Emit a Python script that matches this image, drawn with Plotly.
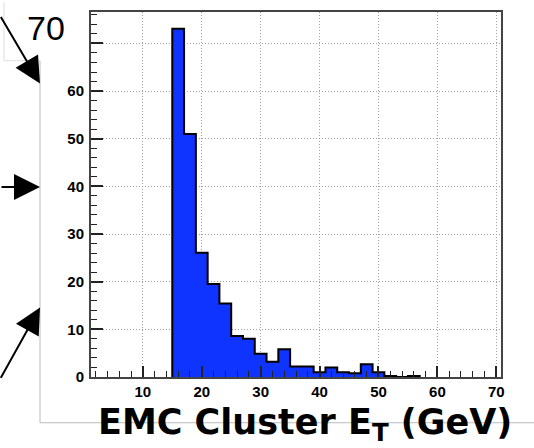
import plotly.graph_objects as go

# Histogram of EMC cluster transverse energy, 2 GeV bins starting at 15 GeV
bin_low = list(range(15, 57, 2))
counts = [73.1, 51.0, 26.1, 19.5, 15.4, 8.6, 8.05, 4.86, 3.2, 5.8, 2.2,
          2.2, 1.0, 2.0, 1.0, 0.8, 2.7, 1.0, 0.2, 0.0, 0.2]
bin_width = 2

x_major = [10, 20, 30, 40, 50, 60, 70]
y_major = [0, 10, 20, 30, 40, 50, 60, 70]
y_labels = ["0", "10", "20", "30", "40", "50", "60", ""]

W, H = 534, 448
ML, MR, MT, MB = 91, 33, 10, 71
PW, PH = W - ML - MR, H - MT - MB


def px(x):
    return (x - ML) / PW


def py(y):
    return (H - MB - y) / PH


# step outline of the histogram (ROOT-style contour)
xs = [bin_low[0]] + bin_low + [bin_low[-1] + bin_width]
ys = [0] + counts + [0]

fig = go.Figure()
fig.add_trace(go.Scatter(
    x=xs, y=ys, mode="lines", line=dict(shape="hv", color="black", width=2),
    fill="tozeroy", fillcolor="#1034ff", hoverinfo="skip", showlegend=False,
))

tick_font = dict(family="Liberation Sans Narrow, Liberation Sans, Arial", size=15,
                 color="black", weight="bold")
grid_style = dict(showgrid=True, gridcolor="#a0a0a0", griddash="1px,2px", gridwidth=1)

fig.update_xaxes(
    range=[1.2, 70.8], tickvals=x_major, ticks="inside", ticklen=11, tickwidth=1.5,
    tickcolor="#222", minor=dict(dtick=2, tick0=0, ticks="inside", ticklen=6,
                                 tickwidth=1, tickcolor="#222", showgrid=False),
    showline=True, linecolor="#444", linewidth=2, mirror=True,
    zeroline=False, tickfont=tick_font, layer="above traces", **grid_style,
)
fig.update_yaxes(
    range=[0, 76.6], tickvals=y_major, ticktext=y_labels, ticks="inside",
    ticklen=12, tickwidth=1.5, tickcolor="#222",
    minor=dict(dtick=2, tick0=0, ticks="inside", ticklen=6, tickwidth=1,
               tickcolor="#222", showgrid=False),
    showline=True, linecolor="#444", linewidth=2, mirror=True,
    zeroline=False, tickfont=tick_font, layer="above traces", ticklabelstandoff=2,
    **grid_style,
)

shapes = [
    # frame lines outside the plot
    dict(type="line", xref="paper", yref="paper", x0=px(40), x1=px(40),
         y0=py(59), y1=py(423), line=dict(color="#bbbbbb", width=1)),
    dict(type="line", xref="paper", yref="paper", x0=px(40), x1=px(534),
         y0=py(423), y1=py(423), line=dict(color="#bbbbbb", width=1)),
    dict(type="line", xref="paper", yref="paper", x0=px(4), x1=px(4),
         y0=py(0), y1=py(59), line=dict(color="#dddddd", width=1)),
    dict(type="line", xref="paper", yref="paper", x0=px(4), x1=px(40),
         y0=py(59), y1=py(59), line=dict(color="#dddddd", width=1)),
]

arrow = dict(text="", showarrow=True, arrowhead=2, arrowsize=2.6, arrowwidth=2,
             arrowcolor="black", xref="paper", yref="paper", standoff=0)
annotations = [
    dict(arrow, x=px(40), y=py(82), ax=-48, ay=-68),
    dict(arrow, x=px(40), y=py(186), ax=-48, ay=0),
    dict(arrow, x=px(40), y=py(307), ax=-48, ay=72),
    dict(text="70", x=px(46), y=py(26), xref="paper", yref="paper",
         xanchor="center", yanchor="middle", showarrow=False,
         font=dict(family="Liberation Sans, Arial", size=34, color="black")),
    dict(text="<b>EMC Cluster E<sub>T</sub> (GeV)</b>", x=px(305), y=py(425),
         xref="paper", yref="paper", xanchor="center", yanchor="middle",
         showarrow=False, font=dict(family="DejaVu Sans", size=35, color="black")),
]

fig.update_layout(
    width=W, height=H, autosize=False,
    margin=dict(l=ML, r=MR, t=MT, b=MB),
    paper_bgcolor="white", plot_bgcolor="white",
    shapes=shapes, annotations=annotations,
)

fig.write_html("out.html")
